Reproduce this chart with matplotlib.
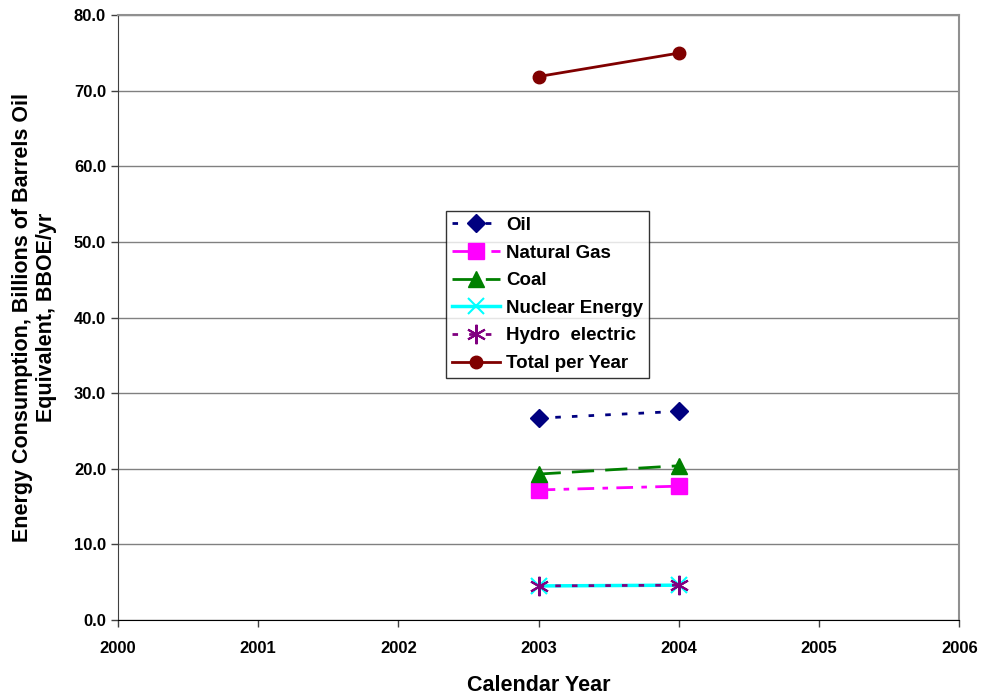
import numpy as np
import matplotlib
matplotlib.use("Agg")
import matplotlib.pyplot as plt

plt.rcParams['font.family'] = ['Liberation Sans', 'DejaVu Sans']
plt.rcParams['font.weight'] = 'bold'

years = [2003, 2004]
oil = [26.7, 27.6]
natural_gas = [17.2, 17.7]
coal = [19.3, 20.4]
nuclear = [4.5, 4.6]
hydro = [4.5, 4.6]
total = [71.9, 75.0]

fig = plt.figure(figsize=(9.82, 6.95), dpi=100)
ax = fig.add_axes([0.120, 0.108, 0.857, 0.870])

ax.plot(years, oil, color='#000080', ls=(0, (2, 4)), lw=2, marker='D', ms=9, label='Oil')
ax.plot(years, natural_gas, color='#FF00FF', ls=(0, (6, 3, 2, 3)), lw=2, marker='s', ms=11, label='Natural Gas')
ax.plot(years, coal, color='#008000', ls=(0, (8, 4)), lw=2, marker='^', ms=11, label='Coal')
ax.plot(years, nuclear, color='#00FFFF', ls='-', lw=2.5, marker='x', ms=11, mew=1.5, label='Nuclear Energy')
ax.plot(years, hydro, color='#800080', ls=(0, (2, 4)), lw=2, marker=(6, 2, 0), ms=14, mew=1.5, label='Hydro  electric')
ax.plot(years, total, color='#800000', ls='-', lw=2, marker='o', ms=9, label='Total per Year')

ax.set_xlim(2000, 2006)
ax.set_ylim(0, 80)
ax.set_xticks(range(2000, 2007))
ax.set_yticks(np.arange(0, 81, 10))
ax.set_yticklabels(['%.1f' % v for v in np.arange(0, 81, 10)])
ax.tick_params(labelsize=12, direction='out', length=5, width=1, color='#404040')
ax.tick_params(axis='x', pad=10)
ax.yaxis.grid(True, color='#808080', lw=1)
ax.set_axisbelow(True)
ax.spines['left'].set_color('#404040')
ax.spines['bottom'].set_color('black')
for s in ['top', 'right']:
    ax.spines[s].set_color('#909090')
    ax.spines[s].set_linewidth(1.5)

ax.set_xlabel('Calendar Year', fontsize=15.5, fontweight='bold', labelpad=14)
ax.set_ylabel('Energy Consumption, Billions of Barrels Oil\nEquivalent, BBOE/yr',
              fontsize=15.5, fontweight='bold', labelpad=12)

leg = ax.legend(loc='upper left', bbox_to_anchor=(0.390, 0.676), fontsize=13.5,
                frameon=True, fancybox=False, edgecolor='black', handlelength=2.56,
                borderpad=0.3, labelspacing=0.56, handletextpad=0.35, borderaxespad=0)
leg.get_frame().set_linewidth(1)

fig.savefig('out.png', dpi=100)
